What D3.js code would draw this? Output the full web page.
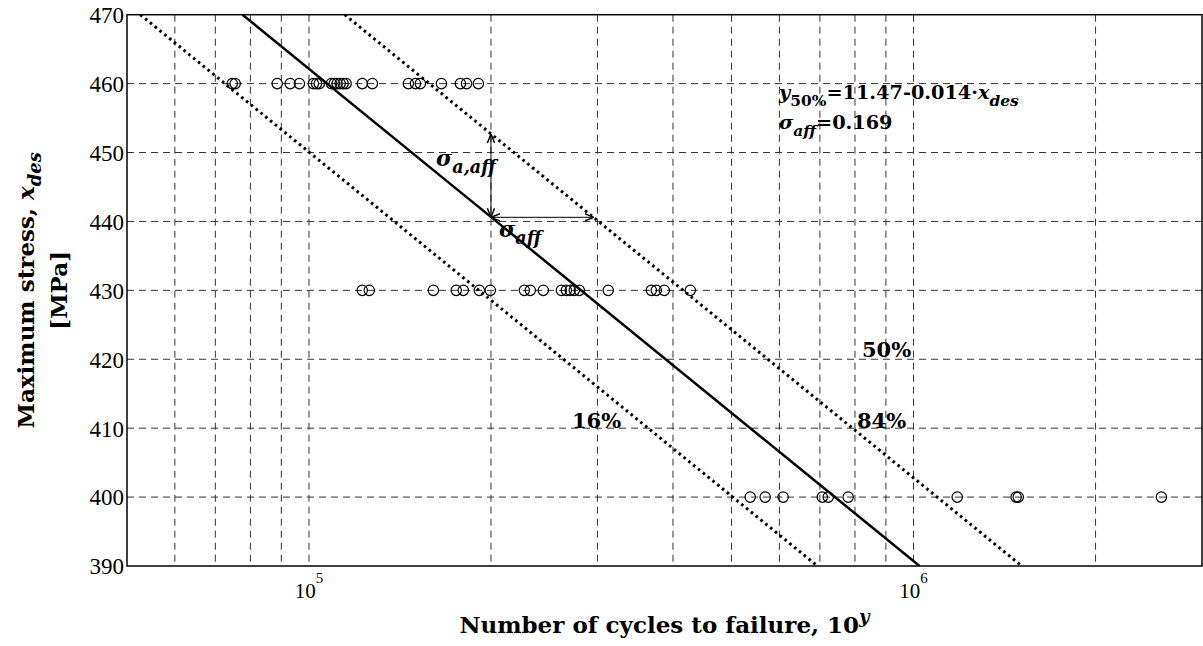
<!DOCTYPE html>
<html>
<head>
<meta charset="utf-8">
<script src="https://cdn.jsdelivr.net/npm/d3@7"></script>
<style>
  body { margin: 0; background: #fff; }
  svg { display: block; }
  .tick text { font-family: "Liberation Serif", serif; }
</style>
</head>
<body>
<div class="chart"></div>
<script>
// ======= data ========
var stress460 = [74650, 75500, 88600, 93100, 96400, 101700, 102900, 104000, 108900, 110100,
                 111300, 112600, 113900, 115200, 122500, 127300, 146000, 150000, 152800,
                 165600, 178000, 182200, 190600];
var stress430 = [122500, 125800, 160600, 175200, 180000, 191300, 199500, 227100, 232300,
                 244100, 261500, 266500, 270500, 274700, 280000, 312600, 368400, 375400,
                 387000, 427300];
var stress400 = [536800, 568300, 608500, 706300, 722500, 779600, 1181000, 1478000, 1490000, 2570000];

// fitted lines (log10 of cycles at the two stress ends)
var lineStress = [470, 390];
var medianLogN = [4.89, 6.01];
var lowerLogN = [4.721, 5.841];
var upperLogN = [5.059, 6.179];

// sigma arrows
var arrowBase = [200000, 440.6];
var arrowUpStress = 452.7;
var arrowRightN = 295800;

var yTicks = [390, 400, 410, 420, 430, 440, 450, 460, 470];
var xGrid = [60000, 70000, 80000, 90000, 100000, 200000, 300000, 400000, 500000,
             600000, 700000, 800000, 900000, 1000000, 2000000];
var xLabels = [{v: 100000, exp: "5"}, {v: 1000000, exp: "6"}];

// ======= layout ========
var width = 1203;
var height = 646;
var pLeft = 127, pRight = 1202, pTop = 14.7, pBottom = 566;

var svg = d3.select(".chart")
  .append("svg")
    .attr("width", width)
    .attr("height", height);

var x = d3.scaleLog()
    .domain([50000, 3000000])
    .range([pLeft, pRight]);

var y = d3.scaleLinear()
    .domain([390, 470])
    .range([pBottom, pTop]);

var defs = svg.append("defs");
defs.append("clipPath").attr("id", "plotClip")
  .append("rect")
    .attr("x", pLeft).attr("y", pTop)
    .attr("width", pRight - pLeft).attr("height", pBottom - pTop);

var marker = defs.append("marker")
    .attr("id", "arrow")
    .attr("viewBox", "0 0 10 10")
    .attr("refX", 10).attr("refY", 5)
    .attr("markerWidth", 9).attr("markerHeight", 9)
    .attr("markerUnits", "userSpaceOnUse")
    .attr("orient", "auto-start-reverse");
marker.append("path")
    .attr("d", "M0,1 L10,5 L0,9")
    .style("fill", "none")
    .style("stroke", "black")
    .style("stroke-width", 1.6);

// ======= grid ========
var grid = svg.append("g").attr("class", "grid");

grid.selectAll(".vgrid")
    .data(xGrid)
  .enter().append("line")
    .attr("class", "vgrid")
    .attr("x1", function(d){ return x(d); })
    .attr("x2", function(d){ return x(d); })
    .attr("y1", pTop).attr("y2", pBottom);

grid.selectAll(".hgrid")
    .data(yTicks.slice(1, -1))
  .enter().append("line")
    .attr("class", "hgrid")
    .attr("x1", pLeft).attr("x2", pRight)
    .attr("y1", function(d){ return y(d); })
    .attr("y2", function(d){ return y(d); });

grid.selectAll("line")
    .style("stroke", "#333")
    .style("stroke-width", 1)
    .style("stroke-dasharray", "7,5");

// ======= axes ========
var yAxis = svg.append("g")
    .attr("transform", "translate(" + pLeft + ",0)")
    .call(d3.axisLeft(y).tickValues(yTicks).tickSize(0).tickPadding(3).tickFormat(d3.format("d")));
yAxis.select(".domain").remove();
yAxis.selectAll("text")
    .style("font-size", "23px")
    .style("fill", "black")
    .attr("dy", "0.34em");

var xLab = svg.append("g").selectAll(".xlab")
    .data(xLabels)
  .enter().append("text")
    .attr("class", "xlab")
    .attr("x", function(d){ return x(d.v); })
    .attr("y", 598)
    .attr("text-anchor", "middle")
    .style("font-family", "Liberation Serif, serif")
    .style("font-size", "21px");
xLab.append("tspan").text("10");
xLab.append("tspan")
    .attr("dy", -15)
    .style("font-size", "15px")
    .text(function(d){ return d.exp; });

svg.append("rect")
    .attr("x", pLeft).attr("y", pTop)
    .attr("width", pRight - pLeft).attr("height", pBottom - pTop)
    .style("fill", "none")
    .style("stroke", "black")
    .style("stroke-width", 1.5);

// ======= fitted lines ========
var plot = svg.append("g").attr("clip-path", "url(#plotClip)");

var line = d3.line()
    .x(function(d){ return x(Math.pow(10, d[0])); })
    .y(function(d){ return y(d[1]); });

function zipLine(logN){ return logN.map(function(v, i){ return [v, lineStress[i]]; }); }

plot.append("path")
    .attr("d", line(zipLine(medianLogN)))
    .style("fill", "none").style("stroke", "black").style("stroke-width", 2.5);

[lowerLogN, upperLogN].forEach(function(l){
  plot.append("path")
      .attr("d", line(zipLine(l)))
      .style("fill", "none").style("stroke", "black")
      .style("stroke-width", 3).style("stroke-dasharray", "2.6,3.6");
});

// ======= data points ========
var points = [];
stress460.forEach(function(n){ points.push([n, 460]); });
stress430.forEach(function(n){ points.push([n, 430]); });
stress400.forEach(function(n){ points.push([n, 400]); });

plot.selectAll(".pt")
    .data(points)
  .enter().append("circle")
    .attr("class", "pt")
    .attr("cx", function(d){ return x(d[0]); })
    .attr("cy", function(d){ return y(d[1]); })
    .attr("r", 5.2)
    .style("fill", "none")
    .style("stroke", "black")
    .style("stroke-width", 1.2);

// ======= sigma arrows ========
svg.append("line")
    .attr("x1", x(arrowBase[0])).attr("y1", y(arrowBase[1]))
    .attr("x2", x(arrowBase[0])).attr("y2", y(arrowUpStress))
    .attr("marker-start", "url(#arrow)").attr("marker-end", "url(#arrow)")
    .style("stroke", "black").style("stroke-width", 1);

svg.append("line")
    .attr("x1", x(arrowBase[0])).attr("y1", y(arrowBase[1]))
    .attr("x2", x(arrowRightN)).attr("y2", y(arrowBase[1]))
    .attr("marker-start", "url(#arrow)").attr("marker-end", "url(#arrow)")
    .style("stroke", "black").style("stroke-width", 1);

// ======= labels ========
var serifBold = "DejaVu Serif, serif";

function label(px, py, parts, size){
  var t = svg.append("text")
      .attr("x", px).attr("y", py)
      .style("font-family", serifBold)
      .style("font-weight", "bold")
      .style("font-size", size + "px");
  var shift = 0;
  parts.forEach(function(p){
    var dy = (p.sub ? 7 : 0) - shift;
    shift = p.sub ? 7 : 0;
    t.append("tspan")
        .attr("dy", dy)
        .style("font-style", p.it ? "italic" : "normal")
        .style("font-size", p.sub ? (size * 0.8) + "px" : null)
        .text(p.t);
  });
  return t;
}

label(436, 166, [{t: "σ", it: true}, {t: "a,aff", it: true, sub: true}], 22);
label(499, 237, [{t: "σ", it: true}, {t: "aff", it: true, sub: true}], 22);
label(862, 357, [{t: "50%"}], 21);
label(572, 428, [{t: "16%"}], 21);
label(857, 428, [{t: "84%"}], 21);
label(779, 99, [{t: "y", it: true}, {t: "50%", sub: true}, {t: "=11.47-0.014·"},
                {t: "x", it: true}, {t: "des", it: true, sub: true}], 19.3);
label(779, 129, [{t: "σ", it: true}, {t: "aff", it: true, sub: true}, {t: "=0.169"}], 19.3);

// axis titles
var xt = svg.append("text")
    .attr("x", (pLeft + pRight) / 2)
    .attr("y", 633)
    .attr("text-anchor", "middle")
    .style("font-family", serifBold)
    .style("font-weight", "bold")
    .style("font-size", "23px");
xt.append("tspan").text("Number of cycles to failure, 10");
xt.append("tspan").attr("dy", -10).style("font-size", "18px").style("font-style", "italic").text("y");

var yt = svg.append("text")
    .attr("transform", "translate(34," + ((pTop + pBottom) / 2) + ") rotate(-90)")
    .attr("text-anchor", "middle")
    .style("font-family", serifBold)
    .style("font-weight", "bold")
    .style("font-size", "23px");
yt.append("tspan").text("Maximum stress, ");
yt.append("tspan").style("font-style", "italic").text("x");
yt.append("tspan").attr("dy", 7).style("font-style", "italic").style("font-size", "18px").text("des");

svg.append("text")
    .attr("transform", "translate(67," + ((pTop + pBottom) / 2) + ") rotate(-90)")
    .attr("text-anchor", "middle")
    .style("font-family", serifBold)
    .style("font-weight", "bold")
    .style("font-size", "23px")
    .text("[MPa]");
</script>
</body>
</html>
